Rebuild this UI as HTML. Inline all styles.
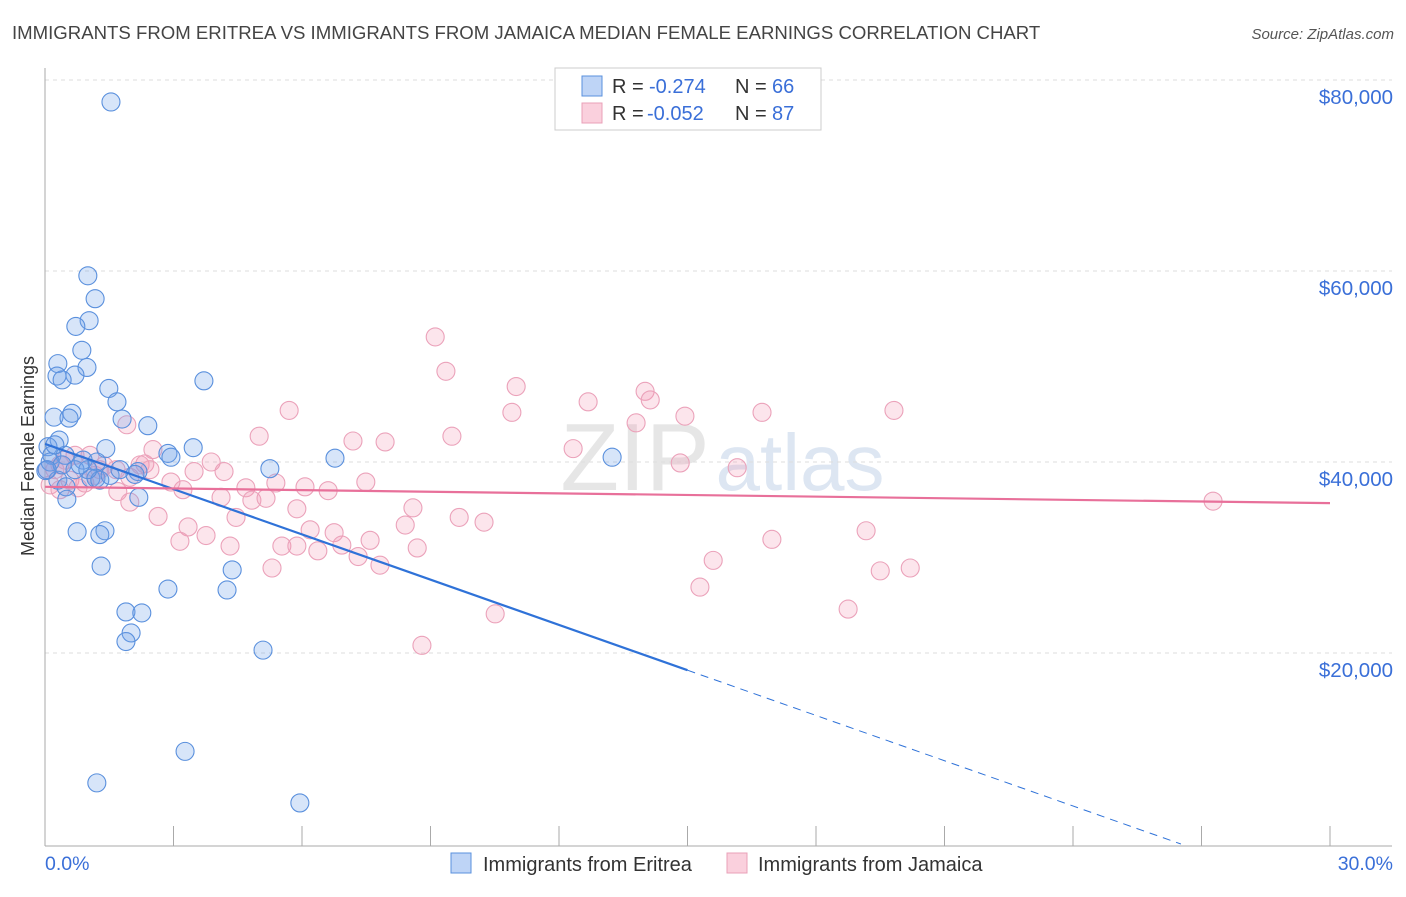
<!DOCTYPE html>
<html><head><meta charset="utf-8"><style>
body{margin:0;background:#fff;font-family:"Liberation Sans",sans-serif}
svg text{font-family:"Liberation Sans",sans-serif}
</style></head><body>
<svg id="chart" width="1406" height="892" viewBox="0 0 1406 892" xmlns="http://www.w3.org/2000/svg">
<text x="12" y="39" font-size="18.6" fill="#444">IMMIGRANTS FROM ERITREA VS IMMIGRANTS FROM JAMAICA MEDIAN FEMALE EARNINGS CORRELATION CHART</text>
<text x="1394" y="39" font-size="15" fill="#555" text-anchor="end" font-style="italic">Source: ZipAtlas.com</text>
<g>
<text x="635" y="490" font-size="96" fill="#e6e6e6" text-anchor="middle" font-family="Liberation Serif,serif">ZIP</text>
<text x="800" y="490" font-size="80" fill="#dde6f2" text-anchor="middle">atlas</text>
</g>
<g id="grid"></g>
<g id="axes"></g>
<g id="pinkPts"></g>
<g id="bluePts"></g>
<g id="trends"></g>
<text transform="translate(34,456) rotate(-90)" font-size="18" fill="#333" text-anchor="middle">Median Female Earnings</text>
<g>
<rect x="555" y="68" width="266" height="62" fill="#fff" stroke="#ccc"/>
<rect x="582" y="76" width="20" height="20" fill="rgba(110,160,235,0.45)" stroke="#5a90dd"/>
<rect x="582" y="103" width="20" height="20" fill="rgba(245,150,180,0.45)" stroke="#e9a0b8"/>
<text x="612" y="93" font-size="20" fill="#333">R =</text>
<text x="649" y="93" font-size="20" fill="#3a6fd8">-0.274</text>
<text x="735" y="93" font-size="20" fill="#333">N =</text>
<text x="772" y="93" font-size="20" fill="#3a6fd8">66</text>
<text x="612" y="120" font-size="20" fill="#333">R =</text>
<text x="647" y="120" font-size="20" fill="#3a6fd8">-0.052</text>
<text x="735" y="120" font-size="20" fill="#333">N =</text>
<text x="772" y="120" font-size="20" fill="#3a6fd8">87</text>
</g>
<g>
<rect x="451" y="853" width="20" height="20" fill="rgba(110,160,235,0.45)" stroke="#5a90dd"/>
<text x="483" y="871" font-size="20" fill="#333">Immigrants from Eritrea</text>
<rect x="727" y="853" width="20" height="20" fill="rgba(245,150,180,0.45)" stroke="#e9a0b8"/>
<text x="758" y="871" font-size="20" fill="#333">Immigrants from Jamaica</text>
</g>
</svg>
<script>
const yTicks=[20000,40000,60000,80000];
const yTickLabels=["$20,000","$40,000","$60,000","$80,000"];
const xTicks=[0,3,6,9,12,15,18,21,24,27,30];
const xEndLabels=["0.0%","30.0%"];
const eritreaX=[1.54,1.00,1.17,1.03,0.72,0.86,0.30,0.98,0.28,0.70,0.40,3.71,1.49,1.68,0.63,0.21,0.56,1.80,2.40,0.33,0.07,1.42,3.46,2.87,0.16,0.47,2.94,6.77,13.24,0.89,1.21,5.25,0.02,2.17,2.10,1.07,1.19,0.30,0.49,2.19,0.51,0.75,1.40,1.28,1.31,4.37,2.87,4.25,1.89,2.26,2.01,1.89,5.09,3.27,1.21,5.95,0.12,0.40,0.70,1.28,1.52,0.05,0.23,1.75,1.00,0.82];
const eritreaY=[77700,59500,57100,54800,54200,51700,50300,49900,49000,49100,48600,48500,47700,46300,45100,44700,44600,44500,43800,42300,41600,41400,41500,40900,40700,40700,40500,40400,40500,40200,40000,39300,39100,39000,38700,38300,38300,38100,37400,36300,36100,32700,32800,32400,29100,28700,26700,26600,24300,24200,22100,21200,20300,9700,6400,4300,40000,39700,39200,38100,38600,39200,41800,39200,39200,39700];
const jamaicaX=[9.11,9.36,11.00,14.01,14.13,12.68,5.70,10.90,16.74,19.82,14.94,13.80,1.91,5.00,9.50,7.19,7.94,2.52,12.33,3.88,14.83,2.33,16.16,0.35,1.38,3.48,1.66,4.18,1.98,7.49,5.39,6.07,4.69,3.22,6.61,2.94,1.70,4.11,4.83,5.16,1.98,5.88,8.59,2.64,4.46,9.67,10.25,3.34,8.41,6.19,6.75,19.17,7.59,3.76,3.15,4.32,5.53,5.88,6.93,6.37,8.69,7.31,16.97,15.60,7.82,5.30,19.50,20.20,15.29,18.75,10.51,8.80,27.27,0.12,0.23,0.58,0.93,1.17,0.05,0.47,0.77,1.28,0.35,2.22,2.45,1.05,0.70];
const jamaicaY=[53100,49500,47900,47400,46500,46300,45400,45200,45200,45400,44800,44100,43900,42700,42700,42200,42100,41300,41400,40000,39900,39800,39400,39700,39600,39000,39200,39000,38400,37900,37800,37400,37300,37100,37000,37900,36900,36300,36000,36200,35800,35100,35200,34300,34200,34200,33700,33200,33400,32900,32600,32800,31800,32300,31700,31200,31200,31200,31300,30700,31000,30100,31900,29700,29200,28900,28600,28900,26900,24600,24100,20800,35900,37600,39200,38100,37800,38600,39200,40200,37300,39200,37100,39700,39200,40700,40700];
const eritreaTrend=[41900,-1580];   // intercept, slope per %
const jamaicaTrend=[37400,-57];

const NS="http://www.w3.org/2000/svg";
const X0=45,X1=1330,Y0=844,Y80=80;
const sx=v=>X0+(v/30)*(X1-X0);
const sy=v=>Y0-(v/80000)*(Y0-Y80);
function mk(tag,attrs,parent){const e=document.createElementNS(NS,tag);for(const k in attrs)e.setAttribute(k,attrs[k]);parent.appendChild(e);return e;}
const grid=document.getElementById('grid'),axes=document.getElementById('axes');
yTicks.forEach((t,i)=>{
  const l=mk('line',{x1:X0,x2:1392,y1:sy(t),y2:sy(t),stroke:'#ddd','stroke-dasharray':'4,4'},grid);
  
  
  const tx=mk('text',{x:1393,y:sy(t)+24,'font-size':20.5,fill:'#3a6fd8','text-anchor':'end'},axes);
  tx.textContent=yTickLabels[i];
  
  
});
const al=mk('line',{x1:X0,x2:X0,y1:68,y2:846,stroke:'#aaa'},axes);


const bl=mk('line',{x1:X0,x2:1392,y1:846,y2:846,stroke:'#aaa'},axes);


xTicks.forEach(t=>{
  const l=mk('line',{x1:sx(t),x2:sx(t),y1:826,y2:846,stroke:'#aaa'},axes);
  
  
});
[[0,'start',45],[30,'end',1393]].forEach((d,i)=>{
  const tx=mk('text',{x:d[2],y:870,'font-size':19.5,fill:'#3a6fd8','text-anchor':d[1]},axes);
  tx.textContent=xEndLabels[i];
  
  
});
const pp=document.getElementById('pinkPts');
jamaicaX.forEach((x,i)=>{
  const c=mk('circle',{cx:sx(x),cy:sy(jamaicaY[i]),r:9,fill:'rgba(245,150,180,0.25)',stroke:'#eba2ba','stroke-width':1.1},pp);
  
  
});
const bp=document.getElementById('bluePts');
eritreaX.forEach((x,i)=>{
  const c=mk('circle',{cx:sx(x),cy:sy(eritreaY[i]),r:9,fill:'rgba(110,160,235,0.28)',stroke:'#5a90dd','stroke-width':1.1},bp);
  
  
});
const tr=document.getElementById('trends');
const bf=x=>eritreaTrend[0]+eritreaTrend[1]*x;
const xz=-eritreaTrend[0]/eritreaTrend[1];
let l1=mk('line',{x1:sx(0),y1:sy(bf(0)),x2:sx(15),y2:sy(bf(15)),stroke:'#2f72d8','stroke-width':2.2},tr);


let l2=mk('line',{x1:sx(15),y1:sy(bf(15)),x2:sx(xz),y2:sy(0),stroke:'#2f72d8','stroke-width':1,'stroke-dasharray':'8,6'},tr);


const pf=x=>jamaicaTrend[0]+jamaicaTrend[1]*x;
let l3=mk('line',{x1:sx(0),y1:sy(pf(0)),x2:sx(30),y2:sy(pf(30)),stroke:'#e8709a','stroke-width':2.2},tr);


</script>
</body></html>
